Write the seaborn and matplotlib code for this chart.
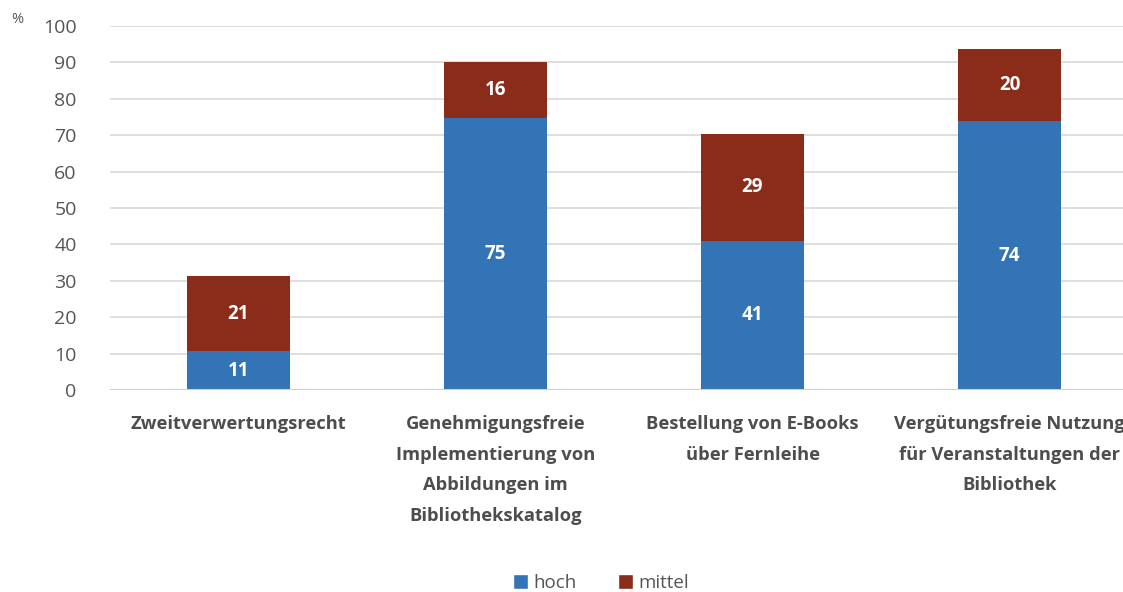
import matplotlib
matplotlib.use("Agg")
import matplotlib.pyplot as plt
import seaborn as sns
import pandas as pd
from matplotlib.patches import Patch

# data
categories = [
    "Zweitverwertungsrecht",
    "Genehmigungsfreie\nImplementierung von\nAbbildungen im\nBibliothekskatalog",
    "Bestellung von E-Books\nüber Fernleihe",
    "Vergütungsfreie Nutzung\nfür Veranstaltungen der\nBibliothek",
]
hoch = [10.6, 74.6, 41.0, 73.8]
mittel = [20.8, 15.6, 29.4, 19.9]
series_names = ["hoch", "mittel"]
colors = ["#3274B5", "#8B2B1A"]

df = pd.DataFrame({"kategorie": categories, "hoch": hoch, "mittel": mittel})
df["gesamt"] = df["hoch"] + df["mittel"]

sns.set_style("white")
plt.rcParams["font.family"] = ["Open Sans", "DejaVu Sans"]

fig = plt.figure(figsize=(11.23, 5.92), dpi=100)
ax = fig.add_axes([110 / 1123, 202 / 592, 1028 / 1123, 364 / 592])

sns.barplot(data=df, x="kategorie", y="gesamt", color=colors[1], width=0.4,
            saturation=1, linewidth=0, ax=ax, zorder=3)
sns.barplot(data=df, x="kategorie", y="hoch", color=colors[0], width=0.4,
            saturation=1, linewidth=0, ax=ax, zorder=3)

# value labels
for i, (h, m) in enumerate(zip(hoch, mittel)):
    ax.text(i, h / 2, f"{h:.0f}", ha="center", va="center", color="white",
            fontsize=13.5, fontweight="bold", zorder=4)
    ax.text(i, h + m / 2, f"{m:.0f}", ha="center", va="center", color="white",
            fontsize=13.5, fontweight="bold", zorder=4)

ax.set_ylim(0, 100)
ax.set_yticks(range(0, 101, 10))
ax.yaxis.grid(True, color="#d9d9d9", linewidth=1.2, zorder=0)
ax.axhline(0, color="#cfcfcf", linewidth=1.5, zorder=3)
for s in ax.spines.values():
    s.set_visible(False)
ax.set_xlabel("")
ax.set_ylabel("")
ax.tick_params(axis="y", length=0, pad=24, labelsize=14, labelcolor="#555555")
ax.tick_params(axis="x", length=0, pad=18, labelsize=13.2, labelcolor="#4d4d4d")
for lbl in ax.get_xticklabels():
    lbl.set_fontweight("bold")
    lbl.set_linespacing(1.9)
ax.text(-0.09, 1.017, "%", transform=ax.transAxes, fontsize=10.5,
        color="#555555", ha="center", va="center")

handles = [Patch(facecolor=c, label=n) for c, n in zip(colors, series_names)]
fig.legend(handles=handles, loc="center", bbox_to_anchor=(0.535, 0.015),
           ncol=2, frameon=False, fontsize=13.5, handlelength=0.8,
           handleheight=0.8, handletextpad=0.3, columnspacing=2.2,
           labelcolor="#555555")

fig.savefig("out.png", dpi=100)
